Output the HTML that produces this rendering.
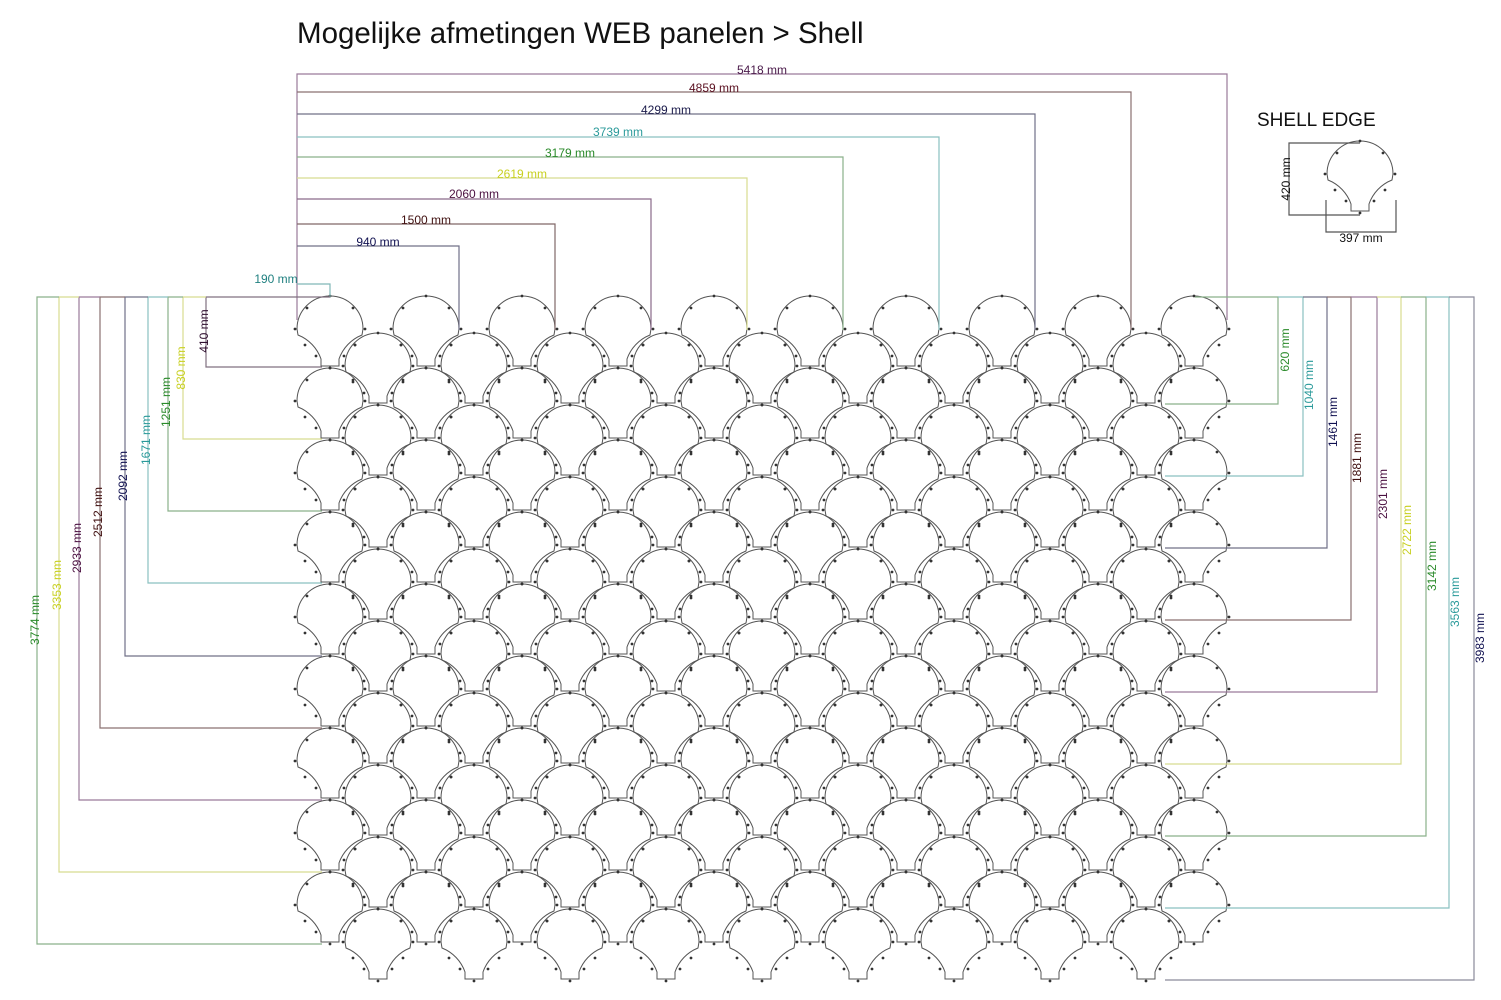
<!DOCTYPE html>
<html><head><meta charset="utf-8"><style>
html,body{margin:0;padding:0;background:#fff;}
svg{display:block;}
text{font-family:"Liberation Sans",sans-serif;}
</style></head><body>
<svg id="s" width="1501" height="1000" viewBox="0 0 1501 1000" xmlns="http://www.w3.org/2000/svg">
<rect width="1501" height="1000" fill="#fff"/>
<text x="297" y="43" font-size="29.5" fill="#111">Mogelijke afmetingen WEB panelen &gt; Shell</text>
<g id="shells" fill="none" stroke="#555" stroke-width="1"></g>
<g id="dots" fill="#333"></g>
<g fill="none" stroke-width="1.2">
<path d="M297,320 V74 H1227 V320" stroke="#9a7a9a"/>
<path d="M297,92 H1131 V330" stroke="#8a7070"/>
<path d="M297,114 H1035 V330" stroke="#707088"/>
<path d="M297,137 H939 V330" stroke="#8ac0c0"/>
<path d="M297,157 H843 V330" stroke="#8ab08a"/>
<path d="M297,178 H747 V330" stroke="#d8dc90"/>
<path d="M297,199 H651 V330" stroke="#8a6a8a"/>
<path d="M297,224 H555 V330" stroke="#806868"/>
<path d="M297,246 H459 V330" stroke="#707088"/>
<path d="M297,284 H330 V297" stroke="#80b8b8"/>
<path d="M330,297 H206 V367 H322" stroke="#807080"/>
<path d="M206,297 H183 V439 H322" stroke="#d8dc90"/>
<path d="M183,297 H168 V511 H322" stroke="#8ab08a"/>
<path d="M168,297 H148 V583 H322" stroke="#8ac0c0"/>
<path d="M148,297 H125 V656 H322" stroke="#707088"/>
<path d="M125,297 H100 V728 H322" stroke="#8a7070"/>
<path d="M100,297 H79 V800 H322" stroke="#9a7a9a"/>
<path d="M79,297 H59 V872 H322" stroke="#d8dc90"/>
<path d="M59,297 H37 V944 H322" stroke="#8ab08a"/>
<path d="M1195,297 H1278 V404 H1165" stroke="#8ab08a"/>
<path d="M1278,297 H1303 V476 H1165" stroke="#8ac0c0"/>
<path d="M1303,297 H1327 V548 H1165" stroke="#707088"/>
<path d="M1327,297 H1351 V620 H1165" stroke="#8a7070"/>
<path d="M1351,297 H1377 V692 H1165" stroke="#9a7a9a"/>
<path d="M1377,297 H1401 V764 H1165" stroke="#d8dc90"/>
<path d="M1401,297 H1426 V836 H1165" stroke="#8ab08a"/>
<path d="M1426,297 H1449 V908 H1165" stroke="#8ac0c0"/>
<path d="M1449,297 H1474 V980 H1165" stroke="#8a8a9a"/>
<path d="M1360,143 H1289 V215 H1360" stroke="#555"/>
<path d="M1326,200 V232 H1396 V200" stroke="#555"/>
</g>
<g font-size="12" text-anchor="middle">
<text x="762" y="74" fill="#4a1a4a">5418 mm</text>
<text x="714" y="92" fill="#5a1020">4859 mm</text>
<text x="666" y="114" fill="#1a1a4a">4299 mm</text>
<text x="618" y="136" fill="#2a9a9a">3739 mm</text>
<text x="570" y="157" fill="#2a8a2a">3179 mm</text>
<text x="522" y="178" fill="#c8d020">2619 mm</text>
<text x="474" y="198" fill="#4a1040">2060 mm</text>
<text x="426" y="224" fill="#401010">1500 mm</text>
<text x="378" y="246" fill="#101050">940 mm</text>
<text x="276" y="283" fill="#208080">190 mm</text>
</g>
<g font-size="12" text-anchor="middle">
<text transform="translate(208,331) rotate(-90)" fill="#301030">410 mm</text>
<text transform="translate(185,368) rotate(-90)" fill="#c8d020">830 mm</text>
<text transform="translate(170,402) rotate(-90)" fill="#2a8a2a">1251 mm</text>
<text transform="translate(150,440) rotate(-90)" fill="#2a9a9a">1671 mm</text>
<text transform="translate(127,476) rotate(-90)" fill="#101050">2092 mm</text>
<text transform="translate(102,512) rotate(-90)" fill="#401010">2512 mm</text>
<text transform="translate(81,548) rotate(-90)" fill="#4a1040">2933 mm</text>
<text transform="translate(61,585) rotate(-90)" fill="#c8d020">3353 mm</text>
<text transform="translate(39,620) rotate(-90)" fill="#2a8a2a">3774 mm</text>
<text transform="translate(1289,350) rotate(-90)" fill="#2a8a2a">620 mm</text>
<text transform="translate(1313,385) rotate(-90)" fill="#2a9a9a">1040 mm</text>
<text transform="translate(1337,422) rotate(-90)" fill="#101050">1461 mm</text>
<text transform="translate(1361,458) rotate(-90)" fill="#401010">1881 mm</text>
<text transform="translate(1387,494) rotate(-90)" fill="#4a1040">2301 mm</text>
<text transform="translate(1411,530) rotate(-90)" fill="#c8d020">2722 mm</text>
<text transform="translate(1436,566) rotate(-90)" fill="#2a8a2a">3142 mm</text>
<text transform="translate(1459,602) rotate(-90)" fill="#2a9a9a">3563 mm</text>
<text transform="translate(1484,638) rotate(-90)" fill="#101050">3983 mm</text>
<text transform="translate(1290,179) rotate(-90)" fill="#111">420 mm</text>
<text x="1361" y="242" fill="#111">397 mm</text>
</g>
<text x="1257" y="126" font-size="19" fill="#111">SHELL EDGE</text>
</svg>
<script>
(function(){
var g=document.getElementById('shells'),d=document.getElementById('dots'),NS='http://www.w3.org/2000/svg';
function shell(cx,y){
 var p='M'+(cx-33)+','+(y+31)+' A33,33 0 0 1 '+(cx+33)+','+(y+31)+' L'+(cx+32)+','+(y+37)+
 ' A40,40 0 0 0 '+(cx+9)+','+(y+61)+' L'+(cx+9)+','+(y+68)+' L'+(cx-9)+','+(y+68)+' L'+(cx-9)+','+(y+61)+
 ' A40,40 0 0 0 '+(cx-32)+','+(y+37)+' Z';
 var e=document.createElementNS(NS,'path');e.setAttribute('d',p);g.appendChild(e);
 var pts=[[0,-2],[-23,10],[23,10],[-35,31],[35,31],[-25,47],[25,47],[-14,58],[14,58],[0,70]];
 pts.forEach(function(q){var c=document.createElementNS(NS,'circle');c.setAttribute('cx',cx+q[0]);c.setAttribute('cy',y+q[1]);c.setAttribute('r',1.4);d.appendChild(c);});
}
for(var r=0;r<9;r++){
 for(var k=0;k<10;k++) shell(330+96*k,298+72*r);
 for(var k=0;k<9;k++) shell(378+96*k,335+72*r);
}
shell(1360,143);
})();
</script>
</body></html>
